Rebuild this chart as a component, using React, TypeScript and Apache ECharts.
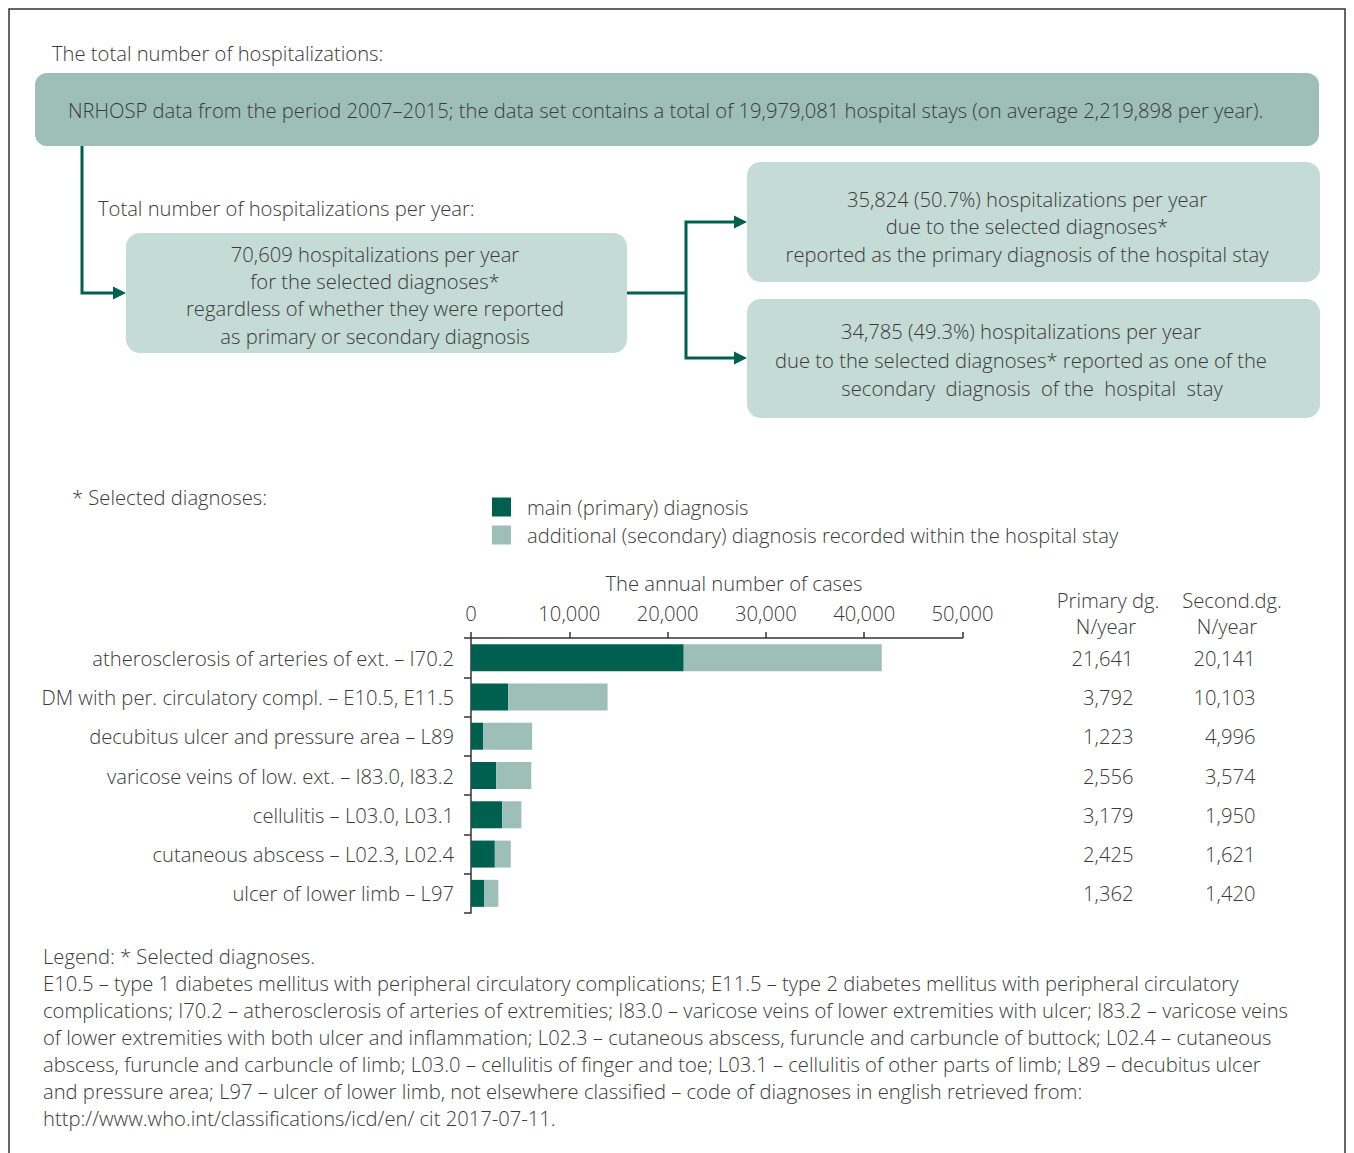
import React, { useEffect, useRef } from "react";
import * as echarts from "echarts";

const categories = [
  "atherosclerosis of arteries of ext. – I70.2",
  "DM with per. circulatory compl. – E10.5, E11.5",
  "decubitus ulcer and pressure area – L89",
  "varicose veins of low. ext. – I83.0, I83.2",
  "cellulitis – L03.0, L03.1",
  "cutaneous abscess – L02.3, L02.4",
  "ulcer of lower limb – L97",
];
const primaryValues = [21641, 3792, 1223, 2556, 3179, 2425, 1362];
const secondaryValues = [20141, 10103, 4996, 3574, 1950, 1621, 1420];
const seriesNames = [
  "main (primary) diagnosis",
  "additional (secondary) diagnosis recorded within the hospital stay",
];
const axisMin = 0;
const axisMax = 50000;
const axisInterval = 10000;

const legendLines = [
  "Legend: * Selected diagnoses.",
  "E10.5 – type 1 diabetes mellitus with peripheral circulatory complications; E11.5 – type 2 diabetes mellitus with peripheral circulatory",
  "complications; I70.2 – atherosclerosis of arteries of extremities; I83.0 – varicose veins of lower extremities with ulcer; I83.2 – varicose veins",
  "of lower extremities with both ulcer and inflammation; L02.3 – cutaneous abscess, furuncle and carbuncle of buttock; L02.4 – cutaneous",
  "abscess, furuncle and carbuncle of limb; L03.0 – cellulitis of finger and toe; L03.1 – cellulitis of other parts of limb; L89 – decubitus ulcer",
  "and pressure area; L97 – ulcer of lower limb, not elsewhere classified – code of diagnoses in english retrieved from:",
  "http://www.who.int/classifications/icd/en/ cit 2017-07-11.",
];

const FONT = "'Open Sans', Lato, sans-serif";
const TXT = "#3a3a3a";
const DARK = "#006050";
const LIGHT = "#9dbfb7";
const PALE = "#c5dbd5";
const FS = 20.2;

const fmt = (v: number) => v.toLocaleString("en-US");

function txt(x: number, y: number, text: string, align: string = "left", extra: any = {}) {
  return {
    type: "text",
    x,
    y,
    style: {
      text,
      fill: TXT,
      font: `300 ${FS}px ${FONT}`,
      textAlign: align,
      textVerticalAlign: "middle",
      ...extra,
    },
  };
}

export default function App() {
  const ref = useRef<HTMLDivElement>(null);
  useEffect(() => {
    if (!ref.current) return;
    const chart = echarts.init(ref.current, undefined, { renderer: "svg" });
    const line = (points: number[][]) => ({
      type: "polyline",
      shape: { points },
      style: { stroke: DARK, lineWidth: 3, fill: null },
    });
    const arrow = (tx: number, ty: number) => ({
      type: "polygon",
      shape: { points: [[tx - 13, ty - 6.5], [tx, ty], [tx - 13, ty + 6.5]] },
      style: { fill: DARK },
    });
    const graphic: any[] = [
      { type: "rect", shape: { x: 9, y: 9, width: 1336, height: 1200 }, style: { fill: null, stroke: "#333", lineWidth: 1.5 } },
      txt(52, 53, "The total number of hospitalizations:"),
      { type: "rect", shape: { x: 35, y: 73, width: 1284, height: 73, r: 12 }, style: { fill: LIGHT } },
      txt(68, 110, "NRHOSP data from the period 2007–2015; the data set contains a total of 19,979,081 hospital stays (on average 2,219,898 per year)."),
      line([[82, 146], [82, 293], [116, 293]]),
      arrow(126, 293),
      txt(98, 208, "Total number of hospitalizations per year:"),
      { type: "rect", shape: { x: 126, y: 233, width: 501, height: 120, r: 14 }, style: { fill: PALE } },
      txt(375, 254, "70,609 hospitalizations per year", "center"),
      txt(375, 281, "for the selected diagnoses*", "center"),
      txt(375, 308, "regardless of whether they were reported", "center"),
      txt(375, 336, "as primary or secondary diagnosis", "center"),
      line([[627, 293], [686, 293]]),
      line([[737, 222], [686, 222], [686, 358], [737, 358]]),
      arrow(747, 222),
      arrow(747, 358),
      { type: "rect", shape: { x: 747, y: 162, width: 573, height: 120, r: 14 }, style: { fill: PALE } },
      txt(1027, 199, "35,824 (50.7%) hospitalizations per year", "center"),
      txt(1027, 226, "due to the selected diagnoses*", "center"),
      txt(1027, 254, "reported as the primary diagnosis of the hospital stay", "center"),
      { type: "rect", shape: { x: 747, y: 299, width: 573, height: 119, r: 14 }, style: { fill: PALE } },
      txt(1021, 331, "34,785 (49.3%) hospitalizations per year", "center"),
      txt(1021, 360, "due to the selected diagnoses* reported as one of the", "center"),
      txt(1032, 388, "secondary  diagnosis  of the  hospital  stay", "center"),
      txt(72, 497, "* Selected diagnoses:"),
      txt(734, 583, "The annual number of cases", "center"),
      txt(1108, 600, "Primary dg.", "center"),
      txt(1106, 626, "N/year", "center"),
      txt(1232, 600, "Second.dg.", "center"),
      txt(1227, 626, "N/year", "center"),
      ...legendLines.map((l, i) => txt(43, 956 + i * 27, l)),
    ];

    const labelStyle = { fontSize: FS, fontFamily: FONT, fontWeight: 300, color: TXT };
    const valueAxis = (data: number[], margin: number) => ({
      type: "category",
      inverse: true,
      position: "right",
      data: data.map(fmt),
      axisLine: { show: false },
      axisTick: { show: false },
      splitLine: { show: false },
      axisLabel: { ...labelStyle, margin, align: "right" },
    });

    chart.setOption({
      animation: false,
      backgroundColor: "#fff",
      textStyle: { fontFamily: FONT },
      grid: { left: 471, top: 638, width: 491.5, height: 275, containLabel: false },
      legend: {
        orient: "vertical",
        left: 487,
        top: 492,
        itemWidth: 19,
        itemHeight: 19,
        itemGap: 8,
        icon: "rect",
        selectedMode: false,
        textStyle: { ...labelStyle, padding: [0, 0, 0, 11], lineHeight: 19 },
        data: seriesNames,
      },
      xAxis: {
        type: "value",
        position: "top",
        min: axisMin,
        max: axisMax,
        interval: axisInterval,
        axisLine: { show: true, lineStyle: { color: "#333", width: 1.5 } },
        axisTick: { show: true, length: 6, lineStyle: { color: "#333", width: 1.5 } },
        splitLine: { show: false },
        axisLabel: { ...labelStyle, margin: 15, formatter: (v: number) => fmt(v) },
      },
      yAxis: [
        {
          type: "category",
          inverse: true,
          data: categories,
          axisLine: { show: true, lineStyle: { color: "#333", width: 1.5 } },
          axisTick: { show: true, length: 7, lineStyle: { color: "#333", width: 1.5 } },
          axisLabel: { ...labelStyle, margin: 17 },
        },
        valueAxis(primaryValues, 171),
        valueAxis(secondaryValues, 293),
      ],
      series: [
        {
          name: seriesNames[0],
          type: "bar",
          stack: "total",
          barWidth: 27,
          yAxisIndex: 0,
          itemStyle: { color: DARK },
          data: primaryValues,
        },
        {
          name: seriesNames[1],
          type: "bar",
          stack: "total",
          barWidth: 27,
          yAxisIndex: 0,
          itemStyle: { color: LIGHT },
          data: secondaryValues,
        },
      ],
      graphic,
    });
    return () => chart.dispose();
  }, []);
  return (
    <div
      ref={ref}
      style={{ position: "absolute", left: 0, top: 0, width: 1354, height: 1153 }}
    />
  );
}
